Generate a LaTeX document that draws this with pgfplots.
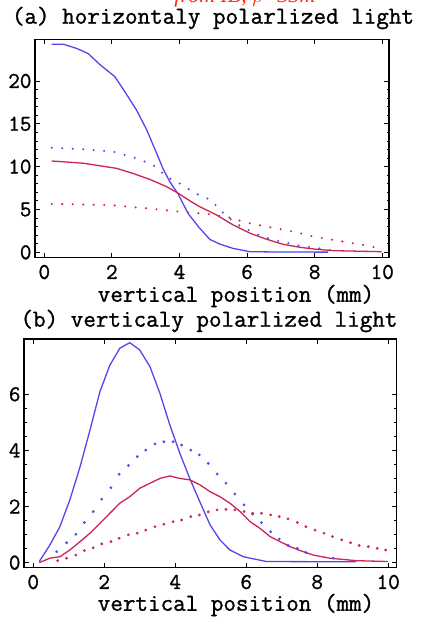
\documentclass[border=0pt]{standalone}
\usepackage{pgfplots}
\pgfplotsset{compat=1.18}
\usepackage{fontspec}
\setmainfont{Liberation Mono}
\newfontfamily\cour{Latin Modern Mono}[FakeBold=1.2]
\newfontfamily\serifit{Liberation Serif}
\definecolor{cblue}{RGB}{85,70,235}
\definecolor{cred}{RGB}{205,35,85}
\definecolor{tred}{RGB}{255,40,10}
\tikzset{lab/.style={font=\cour\fontsize{24.4}{25}\selectfont, inner sep=0.5pt}}
\pgfplotsset{
  common/.style={
    scale only axis, anchor=south west,
    tick align=inside,
    major tick length=5pt, minor tick length=2.5pt,
    axis line style={line width=1.3pt},
    every tick/.style={black, line width=0.9pt},
    xtick={0,2,4,6,8,10},
    /pgf/number format/assume math mode=true,
    ticklabel style={font=\cour\fontsize{22.5}{22.5}\selectfont},
    xticklabel style={inner sep=1pt, yshift=-6pt},
    clip=true,
  },
  sol/.style={line width=1.3pt, no marks},
  dotl/.style={line width=2.3pt, line cap=round, dash pattern=on 0pt off 10.5pt, no marks},
  dotm/.style={only marks, mark=*, mark size=1.2pt},
}
\begin{document}
\begin{tikzpicture}
\path[use as bounding box] (0pt,0pt) rectangle (420pt,617pt);
\node[font=\serifit\itshape\fontsize{22}{22}\selectfont, text=tred, anchor=base, inner sep=0pt] at (245pt,614pt) {from IB, $\rho$=33m};
\node[lab] at (213pt,599pt) {(a) horizontaly polarlized light};
\node[lab] at (236pt,321pt) {vertical position (mm)};
\node[lab] at (209pt,296pt) {(b) verticaly polarlized light};
\node[lab] at (236pt,12pt) {vertical position (mm)};

\begin{axis}[common, at={(35pt,359.3pt)}, width=354pt, height=218.4pt,
  xmin=-0.275, xmax=10.2, ymin=-0.63, ymax=24.87,
  ytick={0,5,10,15,20}, minor y tick num=4]
\addplot[sol, cblue] coordinates {
(0.22,24.3) (0.56,24.3) (0.96,23.8) (1.3,23.2) (1.65,21.9) (2.09,20.5) (2.44,18.4)
(2.73,16.6) (3.03,14.3) (3.32,11.6) (3.52,9.7) (3.72,8.2) (3.96,6.8) (4.26,4.5)
(4.6,2.8) (4.9,1.5) (5.2,0.95) (5.59,0.45) (6.09,0.07) (7.0,0.03) (8.4,0.02)};
\addplot[sol, cred] coordinates {
(0.22,10.66) (1.15,10.4) (1.65,10.1) (2.14,9.8) (2.63,9.2) (3.13,8.5) (3.62,7.66)
(3.96,6.9) (4.31,6.0) (4.61,5.3) (4.9,4.74) (5.1,4.35) (5.59,3.19) (6.09,2.22)
(6.58,1.52) (7.07,0.93) (7.57,0.58) (8.06,0.35) (8.55,0.19) (9.98,0.07)};
\addplot[dotl, cblue] coordinates {
(0.22,12.2) (1.06,12.06) (2.04,11.75) (2.73,10.97) (3.22,10.2) (3.62,8.83) (4.0,8.05)
(4.46,6.9) (4.93,6.1) (5.25,4.74) (5.69,3.3) (5.94,2.8) (6.18,2.3) (6.48,1.82)
(6.73,1.52) (7.5,0.8) (8.45,0.27)};
\addplot[dotl, cred] coordinates {
(0.22,5.64) (1.0,5.6) (2.0,5.5) (3.0,5.15) (4.0,4.75) (4.9,4.45) (5.49,4.04)
(5.99,3.46) (6.48,3.07) (6.97,2.72) (7.47,2.33) (7.96,1.82) (8.45,1.52) (8.95,1.17)
(9.44,0.85) (9.93,0.47)};
\end{axis}

\begin{axis}[common, at={(24pt,49.3pt)}, width=372.7pt, height=228.7pt,
  xmin=-0.26, xmax=10.24, ymin=-0.18, ymax=7.97,
  ytick={0,2,4,6}, minor y tick num=3]
\addplot[sol, cblue] coordinates {
(0.17,0.04) (0.47,0.63) (0.75,1.28) (1.03,2.23) (1.32,3.42) (1.6,4.73) (1.88,6.1)
(2.16,7.04) (2.44,7.64) (2.72,7.84) (3.0,7.58) (3.29,6.98) (3.57,6.03) (3.85,4.9)
(4.13,3.9) (4.41,3.0) (4.7,2.15) (4.98,1.35) (5.26,0.81) (5.54,0.45) (5.92,0.21)
(6.57,0.04) (9.1,0.03)};
\addplot[sol, cred] coordinates {
(0.17,0.0) (0.47,0.16) (0.75,0.21) (1.03,0.45) (1.32,0.75) (1.6,1.05) (1.88,1.4)
(2.16,1.76) (2.44,2.12) (2.72,2.35) (3.0,2.65) (3.29,2.83) (3.57,3.0) (3.85,3.09)
(4.13,3.0) (4.41,2.95) (4.7,2.77) (4.98,2.53) (5.26,2.35) (5.54,2.12) (5.83,1.82)
(6.11,1.46) (6.39,1.22) (6.67,0.93) (6.95,0.75) (7.24,0.57) (7.52,0.43) (7.89,0.27)
(8.35,0.16) (9.1,0.07) (10.0,0.04)};
\addplot[dotm, cblue] coordinates {
(0.66,0.39) (0.94,0.71) (1.2,1.01) (1.44,1.43) (1.69,1.82) (1.93,2.26) (2.19,2.67)
(2.42,3.15) (2.68,3.46) (2.93,3.78) (3.17,4.01) (3.43,4.23) (3.68,4.31) (3.94,4.31)
(4.18,4.19) (4.44,4.01) (4.68,3.84) (4.93,3.54) (5.18,3.16) (5.43,2.83) (5.68,2.45)
(5.94,2.06) (6.18,1.73) (6.43,1.43) (6.69,1.1) (6.93,0.84) (7.18,0.61) (7.44,0.51)
(7.68,0.36) (8.45,0.16)};
\addplot[dotm, cred] coordinates {
(0.69,0.07) (0.94,0.16) (1.2,0.27) (1.44,0.43) (1.69,0.53) (1.93,0.67) (2.19,0.75)
(2.42,0.87) (2.68,0.99) (2.93,1.05) (3.17,1.16) (3.43,1.28) (3.68,1.37) (3.94,1.46)
(4.18,1.52) (4.44,1.64) (4.68,1.7) (4.93,1.81) (5.18,1.88) (5.43,1.9) (5.68,1.88)
(5.94,1.82) (6.18,1.76) (6.43,1.76) (6.69,1.7) (6.93,1.64) (7.18,1.56) (7.44,1.43)
(7.68,1.28) (7.94,1.16) (8.19,1.05) (8.43,0.93) (8.69,0.81) (8.94,0.71) (9.18,0.61)
(9.44,0.57) (9.69,0.51) (9.93,0.45)};
\end{axis}
\end{tikzpicture}
\end{document}
